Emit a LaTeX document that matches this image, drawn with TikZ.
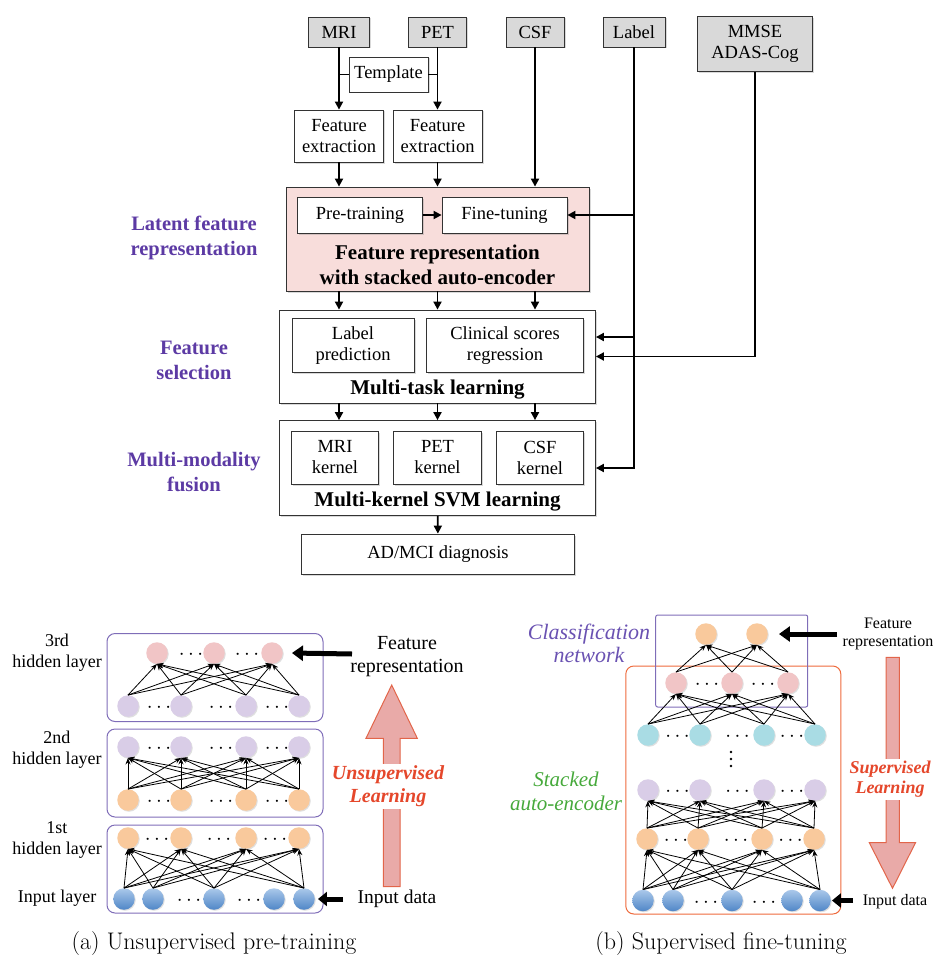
\documentclass[tikz,border=0pt]{standalone}
\usepackage{fontspec}
\newfontfamily\tnr{Liberation Serif}
\usetikzlibrary{arrows.meta,shadows,positioning}
\newcommand\setfs[2]{\fontsize{#1}{#2}\selectfont}

\definecolor{boxgray}{HTML}{D9D9D9}
\definecolor{saepink}{HTML}{F8DDDB}
\definecolor{sidepurple}{HTML}{5C3AA4}
\definecolor{clspurple}{HTML}{6A52B2}
\definecolor{nPink}{HTML}{F1C5C6}
\definecolor{nLav}{HTML}{D9CDE7}
\definecolor{nOrange}{HTML}{F9C99C}
\definecolor{nCyan}{HTML}{A9DCE4}
\definecolor{nBlueTop}{HTML}{AAC8EA}
\definecolor{nBlueBot}{HTML}{4F86C7}
\definecolor{framepurple}{HTML}{7F6DB8}
\definecolor{frameorange}{HTML}{EE6A3C}
\definecolor{learnred}{HTML}{E5472B}
\definecolor{arrowfill}{HTML}{E9AAA8}
\definecolor{arrowline}{HTML}{E2654A}
\definecolor{saegreen}{HTML}{46A93B}

\tikzset{
  softshadow/.style={drop shadow={shadow xshift=1.5pt,shadow yshift=-1.5pt,opacity=0.3}},
  srcbox/.style={draw=black!80, fill=boxgray, line width=0.8pt, font=\tnr\setfs{18.5}{21},
    align=center, inner sep=0pt, softshadow},
  stepbox/.style={draw=black!80, fill=white, line width=0.8pt, font=\tnr\setfs{18.5}{21},
    align=center, inner sep=0pt, softshadow},
  stagebox/.style={draw=black!80, line width=0.8pt, inner sep=0pt, softshadow},
  stagetxt/.style={font=\tnr\bfseries\setfs{21}{25}, align=center, inner sep=0pt},
  sidetxt/.style={font=\tnr\bfseries\setfs{20.5}{25}, text=sidepurple, align=center},
  flow/.style={line width=1.8pt, -{Triangle[length=8pt,width=8pt]}},
  neuron/.style={circle, minimum size=21.5pt, inner sep=0pt,
    drop shadow={shadow xshift=1pt,shadow yshift=-1pt,opacity=0.25}},
  blueN/.style={top color=nBlueTop, bottom color=nBlueBot},
  conn/.style={line width=0.8pt, -{Stealth[length=6.5pt,width=5pt]}},
  dotsn/.style={font=\setfs{20}{20}, inner sep=0pt},
  layertxt/.style={font=\tnr\setfs{18}{21}, align=center},
  frameA/.style={draw=framepurple, line width=1pt, rounded corners=8pt},
  bigarrow/.style={fill=arrowfill, draw=arrowline, line width=1pt},
  fatarrow/.style={line width=5pt, -{Triangle[length=11pt,width=15pt]}},
  learntxt/.style={font=\tnr\bfseries\itshape, text=learnred, align=center, fill=white, inner sep=2pt},
  captxt/.style={font=\setfs{24}{26}, text=black},
}

\begin{document}
\begin{tikzpicture}[x=1pt,y=-1pt]
\useasboundingbox (0,0) rectangle (945,971);

% data sources
\node[srcbox, minimum width=61pt, minimum height=30pt] (mri) at (339,32) {MRI};
\node[srcbox, minimum width=58pt, minimum height=30pt] (pet) at (437.5,32) {PET};
\node[srcbox, minimum width=58pt, minimum height=30pt] (csf) at (535,32) {CSF};
\node[srcbox, minimum width=62pt, minimum height=30pt] (lab) at (634,32) {Label};
\node[srcbox, minimum width=115pt, minimum height=55pt] (mmse) at (755,44) {MMSE\\ADAS-Cog};

\node[stepbox, minimum width=79pt, minimum height=35pt] (tmpl) at (388.5,74.5) {Template};
\node[stepbox, minimum width=89pt, minimum height=52pt] (fe1) at (339,136) {Feature\\extraction};
\node[stepbox, minimum width=89pt, minimum height=52pt] (fe2) at (437.5,136) {Feature\\extraction};

% stacked auto-encoder stage
\node[stagebox, fill=saepink, minimum width=303pt, minimum height=104pt] (sae) at (437.5,239) {};
\node[stepbox, minimum width=125pt, minimum height=36pt] (pre) at (360,215) {Pre-training};
\node[stepbox, minimum width=125pt, minimum height=36pt] (fine) at (504.5,215) {Fine-tuning};
\node[stagetxt] (saetxt) at (437.5,264.5) {Feature representation\\with stacked auto-encoder};

% multi-task stage
\node[stagebox, fill=white, minimum width=316pt, minimum height=93pt] (mtl) at (437.5,356.5) {};
\node[stepbox, minimum width=122pt, minimum height=54pt] (lp) at (353,345.5) {Label\\prediction};
\node[stepbox, minimum width=157pt, minimum height=54pt] (csr) at (505,345.5) {Clinical scores\\regression};
\node[stagetxt] (mtltxt) at (437.5,389.5) {Multi-task learning};

% multi-kernel stage
\node[stagebox, fill=white, minimum width=316pt, minimum height=95pt] (svm) at (437.5,468) {};
\node[stepbox, minimum width=87pt, minimum height=53pt] (mk) at (335,457.5) {MRI\\kernel};
\node[stepbox, minimum width=88pt, minimum height=53pt] (pk) at (437.5,457.5) {PET\\kernel};
\node[stepbox, minimum width=87pt, minimum height=53pt] (ck) at (540,457.5) {CSF\\kernel};
\node[stagetxt] (svmtxt) at (437.5,502) {Multi-kernel SVM learning};

\node[stepbox, minimum width=273pt, minimum height=40pt] (diag) at (438,554) {AD/MCI diagnosis};

% side labels
\node[sidetxt] (s1) at (194,238) {Latent feature\\representation};
\node[sidetxt] (s2) at (194,360) {Feature\\selection};
\node[sidetxt] (s3) at (194,472.5) {Multi-modality\\fusion};

% flows
\draw[flow] (mri) -- (fe1);
\draw[flow] (pet) -- (fe2);
\draw[line width=1.8pt] (tmpl.west -| mri.south) -- (tmpl.west);
\draw[line width=1.8pt] (tmpl.east) -- (tmpl.east -| pet.south);
\draw[flow] (fe1) -- (fe1 |- sae.north);
\draw[flow] (fe2) -- (fe2 |- sae.north);
\draw[flow] (csf) -- (csf |- sae.north);
\draw[flow] (pre) -- (fine);
\foreach \n in {fe1,sae,csf} {
  \draw[flow] (sae.south -| \n) -- (mtl.north -| \n);
  \draw[flow] (mtl.south -| \n) -- (svm.north -| \n);
}
\draw[flow] (svm) -- (diag);
\coordinate (mtlin) at ([yshift=19.5pt]mtl.east);
\draw[flow] (lab) |- (svm.east);
\draw[flow] (lab |- fine.east) -- (fine.east);
\draw[flow] (lab |- mtlin) -- (mtlin);
\draw[flow] (mmse) |- (mtl.east);

% (a) unsupervised pre-training
\node[frameA, minimum width=216pt, minimum height=88pt] (fa3) at (215,677.5) {};
\node[frameA, minimum width=216pt, minimum height=88pt] (fa2) at (215,773) {};
\node[frameA, minimum width=216pt, minimum height=88pt] (fa1) at (215,869) {};

\foreach \x [count=\i] in {157,214,272}
  \node[neuron, fill=nPink] (a3t\i) at (\x,653) {};
\foreach \x [count=\i] in {128,181,246,299} {
  \node[neuron, fill=nLav] (a3b\i) at (\x,706) {};
  \node[neuron, fill=nLav] (a2t\i) at (\x,747) {};
  \node[neuron, fill=nOrange] (a2b\i) at (\x,800) {};
  \node[neuron, fill=nOrange] (a1t\i) at (\x,838) {};
}
\foreach \x [count=\i] in {124,153,214,274,304}
  \node[neuron, blueN] (a1b\i) at (\x,899) {};

\foreach \x [count=\i] in {191,247} \node[dotsn] (a3td\i) at (\x,655) {$\cdots$};
\foreach \x [count=\i] in {159,221,277} {
  \node[dotsn] (a3bd\i) at (\x,708) {$\cdots$};
  \node[dotsn] (a2td\i) at (\x,749) {$\cdots$};
  \node[dotsn] (a2bd\i) at (\x,802) {$\cdots$};
  \node[dotsn] (a1td\i) at (\x-2,840) {$\cdots$};
}
\foreach \x [count=\i] in {189,249} \node[dotsn] (a1bd\i) at (\x,901) {$\cdots$};

\foreach \i in {1,...,4} \foreach \j in {1,...,3}
  \draw[conn] (a3b\i.north) -- (a3t\j.south);
\foreach \i in {1,...,4} \foreach \j in {1,...,4}
  \draw[conn] (a2b\i.north) -- (a2t\j.south);
\foreach \i in {1,2,3,5} \foreach \j in {1,...,4}
  \draw[conn] (a1b\i.north) -- (a1t\j.south);

\node[layertxt] (l3) at (57,653) {3rd\\hidden layer};
\node[layertxt] (l2) at (57,750) {2nd\\hidden layer};
\node[layertxt] (l1) at (57,840) {1st\\hidden layer};
\node[layertxt] (l0) at (57,898) {Input layer};

\node[layertxt, font=\tnr\setfs{20}{23}] (fra) at (407,657) {Feature\\representation};
\coordinate (fraS) at (352,654);
\draw[fatarrow] (fraS) -- ([xshift=9pt]a3t3.east);
\node[layertxt, font=\tnr\setfs{19.5}{21}] (ida) at (397,899) {Input data};
\coordinate (idaS) at (343,899);
\draw[fatarrow, -{Triangle[length=9pt,width=14pt]}] (idaS) -- ([xshift=3pt]a1b5.east);

\draw[bigarrow] (383.3,886.7) -- (383.3,738.3) -- (366,738.3) -- (391.7,685)
  -- (417.3,738.3) -- (400,738.3) -- (400,886.7) -- cycle;
\node[learntxt, font=\tnr\bfseries\itshape\setfs{20}{23}] (ula) at (388,786.5) {Unsupervised\\Learning};

\node[captxt] (capa) at (214,943) {(a) Unsupervised pre-training};

% (b) supervised fine-tuning
\node[draw=frameorange, line width=1pt, rounded corners=8pt, minimum width=215pt, minimum height=248pt] (fsae) at (733.3,790) {};
\node[draw=framepurple, line width=1pt, rounded corners=2pt, minimum width=152pt, minimum height=92pt] (fcls) at (731.7,661) {};

\foreach \x [count=\i] in {706,757}
  \node[neuron, fill=nOrange] (bo\i) at (\x,634) {};
\foreach \x [count=\i] in {676,732,788}
  \node[neuron, fill=nPink] (bp\i) at (\x,683) {};
\foreach \x [count=\i] in {648,700,764,815} {
  \node[neuron, fill=nCyan] (bc\i) at (\x,735) {};
  \node[neuron, fill=nLav] (bl\i) at (\x,790) {};
}
\foreach \x [count=\i] in {647,698,762,814}
  \node[neuron, fill=nOrange] (br\i) at (\x,839) {};
\foreach \x [count=\i] in {643,673,732,792,820}
  \node[neuron, blueN] (bb\i) at (\x,900.5) {};

\foreach \x [count=\i] in {707,763} \node[dotsn] (bpd\i) at (\x,685) {$\cdots$};
\foreach \x [count=\i] in {677.5,737.5,792} {
  \node[dotsn] (bcd\i) at (\x,737) {$\cdots$};
  \node[dotsn] (bld\i) at (\x,792) {$\cdots$};
  \node[dotsn] (brd\i) at (\x-1.5,841) {$\cdots$};
}
\foreach \x [count=\i] in {706,764} \node[dotsn] (bbd\i) at (\x,902.5) {$\cdots$};
% vertical dots
\foreach \k in {0,1,2} \fill (731,752+7*\k) circle (1.4pt);

\foreach \i in {1,...,3} \foreach \j in {1,2}
  \draw[conn] (bp\i.north) -- (bo\j.south);
\foreach \i in {1,...,4} \foreach \j in {1,...,3}
  \draw[conn] (bc\i.north) -- (bp\j.south);
\foreach \i in {1,...,4} \foreach \j in {1,...,4}
  \draw[conn] (br\i.north) -- (bl\j.south);
\foreach \i in {1,2,3,5} \foreach \j in {1,...,4}
  \draw[conn] (bb\i.north) -- (br\j.south);

\node[layertxt, font=\tnr\itshape\setfs{22}{23.5}, text=clspurple] (clsn) at (589,643.5) {Classification\\network};
\node[layertxt, font=\tnr\itshape\setfs{21}{23.5}, text=saegreen] (saen) at (566,791.5) {Stacked\\auto-encoder};

\node[layertxt, font=\tnr\setfs{16}{18.5}] (frb) at (888,634) {Feature\\representation};
\coordinate (frbS) at (837,634);
\draw[fatarrow] (frbS) -- ([xshift=11pt]bo2.east);
\node[layertxt, font=\tnr\setfs{16}{18}] (idb) at (895,901.5) {Input data};
\coordinate (idbS) at (853,900.5);
\draw[fatarrow, -{Triangle[length=9pt,width=14pt]}] (idbS) -- ([xshift=1pt]bb5.east);

\draw[bigarrow] (886,657.3) -- (886,842.7) -- (869.3,842.7) -- (892.5,888.3)
  -- (915.5,842.7) -- (899.3,842.7) -- (899.3,657.3) -- cycle;
\node[learntxt, font=\tnr\bfseries\itshape\setfs{18}{20}] (slb) at (890,779.5) {Supervised\\Learning};

\node[captxt] (capb) at (721,943) {(b) Supervised fine-tuning};
\end{tikzpicture}
\end{document}
